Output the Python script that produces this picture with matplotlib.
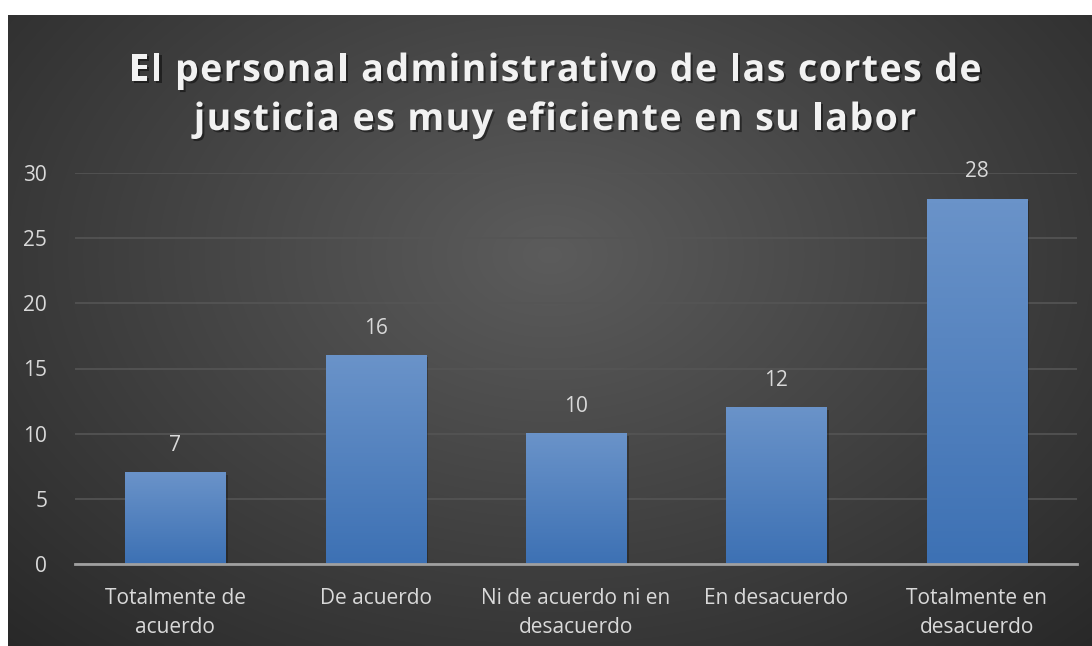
import numpy as np
import matplotlib
matplotlib.use('Agg')
import matplotlib.pyplot as plt
import matplotlib.patheffects as pe

plt.rcParams['font.family'] = ['Open Sans', 'DejaVu Sans']

categories = ['Totalmente de\nacuerdo', 'De acuerdo', 'Ni de acuerdo ni en\ndesacuerdo',
              'En desacuerdo', 'Totalmente en\ndesacuerdo']
values = [7, 16, 10, 12, 28]
title_lines = ['El personal administrativo de las cortes de',
               'justicia es muy eficiente en su labor']

W, H = 1092, 646
fig = plt.figure(figsize=(W / 100, H / 100), dpi=100)
fig.patch.set_facecolor('white')

# radial gradient background
bg = fig.add_axes([8 / W, 0, 1 - 8 / W, 1 - 15 / H])
yy, xx = np.mgrid[0:1:300j, 0:1:500j]
r = np.sqrt(((xx - 0.5) / 0.75) ** 2 + ((yy - 0.62) / 0.9) ** 2)
r = np.clip(r, 0, 1)
shade = 0.36 - 0.21 * r
img = np.dstack([shade, shade, shade])
bg.imshow(img, extent=[0, 1, 0, 1], origin='lower', aspect='auto', interpolation='bilinear')
bg.axis('off')

ax = fig.add_axes([75 / W, (H - 564) / H, (1077 - 75) / W, (564 - 173) / H])
ax.patch.set_alpha(0)
x = np.arange(len(values))
bars = ax.bar(x, values, width=0.5, color='none', zorder=3)

grad = np.linspace(0, 1, 100).reshape(-1, 1)
top_c = np.array([0x6a, 0x93, 0xc9]) / 255
bot_c = np.array([0x3d, 0x71, 0xb4]) / 255
cols = bot_c + (top_c - bot_c) * grad[:, :, None]
for b in bars:
    x0, w, h = b.get_x(), b.get_width(), b.get_height()
    # soft shadow
    ax.bar(x0 + w / 2 + 0.012, h, width=w, bottom=-0.15, color='black', alpha=0.25, zorder=2)
    ax.imshow(cols, extent=[x0, x0 + w, 0, h], origin='lower', aspect='auto', zorder=3)
    ax.annotate(str(int(h)), (x0 + w / 2, h), xytext=(0, 12), textcoords='offset points',
                ha='center', va='bottom', color='#d9d9d9', fontsize=15)

ax.set_xlim(-0.5, len(values) - 0.5)
ax.set_ylim(0, 30)
ax.set_yticks(range(0, 31, 5))
ax.grid(axis='y', color='#555555', linewidth=1.2, zorder=0)
ax.set_axisbelow(True)
ax.set_xticks(x)
ax.set_xticklabels(categories, color='#d9d9d9', fontsize=15, linespacing=1.55)
ax.tick_params(axis='y', colors='#d9d9d9', labelsize=15, length=0, pad=20)
ax.tick_params(axis='x', length=0, pad=17)
for s in ['top', 'right', 'left']:
    ax.spines[s].set_visible(False)
ax.spines['bottom'].set_color('#a0a0a0')
ax.spines['bottom'].set_linewidth(2)
ax.spines['bottom'].set_zorder(5)

# title with letter spacing, drawn char by char
renderer = fig.canvas.get_renderer()
tkw = dict(color='#f2f2f2', fontsize=27, fontweight='bold', va='center', ha='left')
shadow = [pe.withSimplePatchShadow(offset=(1.5, -1.5), shadow_rgbFace='black', alpha=0.45)]


def text_w(s):
    t = fig.text(0, 0, s.replace(' ', '\u00a0'), **tkw)
    wd = t.get_window_extent(renderer).width
    t.remove()
    return wd


target = 853
base = text_w(title_lines[0])
track = (target - base) / (len(title_lines[0]) - 1)
cx = 555
for yc, line in zip([71, 120], title_lines):
    total = text_w(line) + track * (len(line) - 1)
    left = cx - total / 2
    for i, ch in enumerate(line):
        if ch == ' ':
            continue
        px = left + text_w(line[:i]) + track * i if i else left
        fig.text(px / W, 1 - yc / H, ch, path_effects=shadow, **tkw)

fig.savefig('out.png', dpi=100)
